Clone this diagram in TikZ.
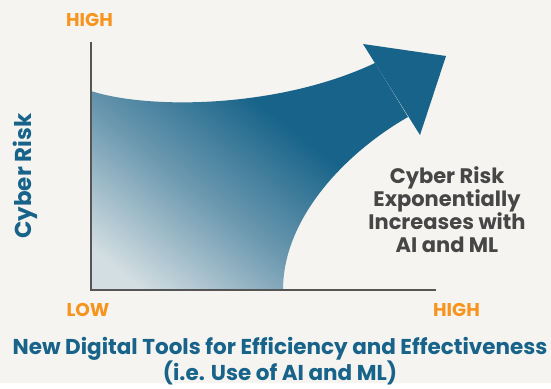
\documentclass[tikz,border=0pt]{standalone}
\usepackage{fontspec}
\setmainfont{Poppins}
\usetikzlibrary{positioning}
\definecolor{paper}{HTML}{F5F4F0}
\definecolor{riskblue}{HTML}{176389}
\definecolor{rampmid}{HTML}{6B98AF}
\definecolor{ramplight}{HTML}{D3DEE2}
\definecolor{riskorange}{HTML}{F7941D}
\definecolor{axisgray}{HTML}{555555}
\definecolor{notegray}{HTML}{464646}
\pgfdeclareverticalshading{riskramp}{100bp}{color(0bp)=(ramplight); color(21bp)=(ramplight);
  color(42bp)=(rampmid); color(62bp)=(riskblue); color(100bp)=(riskblue)}
\begin{document}
\begin{tikzpicture}[x=1pt, y=-1pt,
    axis/.style={draw=axisgray, line width=1.6pt},
    axislabel/.style={font=\fontsize{18.5}{20}\selectfont\bfseries, text=riskorange},
    title/.style={font=\fontsize{21.5}{23}\selectfont\bfseries, text=riskblue, align=center},
    note/.style={font=\fontsize{21}{23}\selectfont\bfseries, text=notegray, align=center}]
      \fill[paper] (0,0) rectangle (551,383);
      \coordinate (origin) at (91,290);
      \coordinate (ytop) at (91,42);
      \coordinate (xend) at (436,290);
      \shade[shading=riskramp, shading angle=-38]
        (91,91) .. controls (150,110) and (280,108) .. (375,63) -- (408,117)
        .. controls (350,150) and (283,215) .. (283,290) -- (origin) -- cycle;
      \fill[riskblue] (363,44) -- (446,56) -- (420,135) -- cycle;
      \draw[axis] (ytop) -- (origin) -- (xend);
      \node[axislabel] (yhigh) at (89.5,20) {HIGH};
      \node[axislabel] (xlow) at (88,310) {LOW};
      \node[axislabel] (xhigh) at (456.5,310) {HIGH};
      \node[title, font=\fontsize{23}{23}\selectfont\bfseries, rotate=90] (ytitle) at (25,176) {Cyber Risk};
      \node[note] (trend) at (447,210) {Cyber Risk\\Exponentially\\Increases with\\AI and ML};
      \node[title] (xtitle) at (280,361) {New Digital Tools for Efficiency and Effectiveness\\(i.e. Use of AI and ML)};
\end{tikzpicture}
\end{document}
